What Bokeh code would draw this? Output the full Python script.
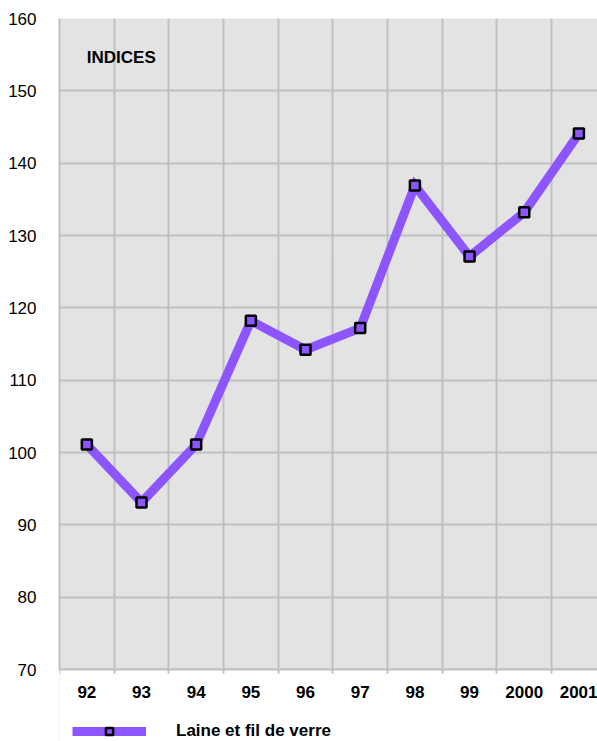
from bokeh.plotting import figure
from bokeh.models import FixedTicker, Legend, LegendItem
from bokeh.core.properties import value
from bokeh.embed import file_html
from bokeh.resources import INLINE

years = ["92", "93", "94", "95", "96", "97", "98", "99", "2000", "2001"]
indices = [101.1, 93.1, 101.1, 118.2, 114.2, 117.2, 136.9, 127.1, 133.2, 144.1]
y_ticks = [70, 80, 90, 100, 110, 120, 130, 140, 150, 160]
series_name = "Laine et fil de verre"
title_text = "INDICES"

xs = list(range(len(years)))
FONT = "Liberation Sans"
PURPLE = "#8c55ff"
GRID = "#c0c0c0"

Y_MIN, Y_MAX = y_ticks[0], y_ticks[-1]
# frame extends below the plotted area so the legend can sit inside it
frame_h = 723
plot_h = 651
y_start = Y_MIN - (frame_h - plot_h) * (Y_MAX - Y_MIN) / plot_h
X_START, X_END = -0.5, 9.34

p = figure(frame_width=538, frame_height=frame_h, output_backend="svg", toolbar_location=None,
           x_range=(X_START, X_END), y_range=(y_start, Y_MAX),
           min_border_left=59, min_border_right=0, min_border_top=18,
           min_border_bottom=0)
p.background_fill_color = "#e3e3e3"
p.border_fill_color = "white"
p.outline_line_color = None

# grid
p.xgrid.ticker = FixedTicker(ticks=[i - 0.5 for i in range(len(years) + 1)])
p.xgrid.grid_line_color = GRID
p.xgrid.grid_line_width = 2
p.ygrid.ticker = FixedTicker(ticks=y_ticks)
p.ygrid.grid_line_color = GRID
p.ygrid.grid_line_width = 2

# white mask below the plotting area
p.quad(left=[X_START], right=[X_END], bottom=[y_start], top=[Y_MIN],
       fill_color="white", line_color=None)

# x axis, drawn at y = 70
xa = p.xaxis[0]
xa.fixed_location = Y_MIN
xa.ticker = FixedTicker(ticks=xs, minor_ticks=[i - 0.5 for i in range(len(years) + 1)])
xa.major_label_overrides = {i: y for i, y in enumerate(years)}
xa.major_tick_line_color = None
xa.minor_tick_line_color = GRID
xa.minor_tick_line_width = 2
xa.minor_tick_out = 4
xa.minor_tick_in = 0
xa.axis_line_color = GRID
xa.axis_line_width = 2
xa.major_label_text_font = FONT
xa.major_label_text_font_size = "17px"
xa.major_label_text_font_style = "bold"
xa.major_label_text_color = "black"
xa.major_label_standoff = 10

# y axis
ya = p.yaxis[0]
ya.ticker = FixedTicker(ticks=y_ticks)
ya.bounds = (Y_MIN, Y_MAX)
ya.major_tick_line_color = None
ya.minor_tick_line_color = None
ya.axis_line_color = GRID
ya.axis_line_width = 2
ya.major_label_text_font = FONT
ya.major_label_text_font_size = "17px"
ya.major_label_text_color = "black"
ya.major_label_standoff = 17

line = p.line(xs, indices, line_color=PURPLE, line_width=9, line_join="miter")
pts = p.scatter(xs, indices, marker="square", size=10, fill_color=PURPLE,
                line_color="black", line_width=2.5)

p.text(x=[0], y=[154.6], text=[title_text], text_font=value(FONT),
       text_font_size="17px", text_font_style="bold", text_color="black",
       text_baseline="middle", text_align="left")

legend = Legend(items=[LegendItem(label=series_name, renderers=[line, pts])],
                orientation="horizontal", location=(13, 0),
                glyph_width=74, glyph_height=18, label_standoff=30,
                padding=0, margin=0, spacing=0,
                border_line_color=None, background_fill_alpha=0,
                label_text_font=FONT, label_text_font_size="17px",
                label_text_font_style="bold", label_text_color="black")
p.add_layout(legend)

open("out.html", "w").write(file_html(p, INLINE))
